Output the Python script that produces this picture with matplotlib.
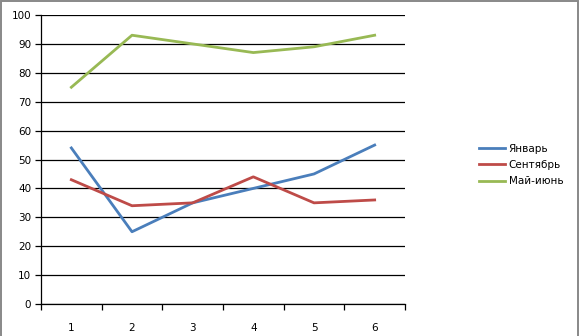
import numpy as np
import matplotlib.pyplot as plt
from matplotlib.patches import Rectangle

categories = ['1', '2', '3', '4', '5', '6']
jan = [54, 25, 35, 40, 45, 55]
sep = [43, 34, 35, 44, 35, 36]
may_jun = [75, 93, 90, 87, 89, 93]

fig = plt.figure(figsize=(5.8, 3.36), dpi=100)
ax = fig.add_axes([41/580, 32/336, 364/580, 289/336])

x = np.arange(len(categories))
ax.plot(x, jan, color='#4a7ebb', lw=2.0, label='Январь')
ax.plot(x, sep, color='#be4b48', lw=2.0, label='Сентябрь')
ax.plot(x, may_jun, color='#98b954', lw=2.0, label='Май-июнь')

ax.set_xlim(-0.5, len(categories) - 0.5)
ax.set_ylim(0, 100)
ax.set_yticks(np.arange(0, 101, 10))
ax.yaxis.grid(True, color='black', lw=0.9)
ax.set_axisbelow(True)

ax.set_xticks(x)
ax.set_xticklabels(categories)
ax.set_xticks(np.arange(-0.5, len(categories)), minor=True)
ax.tick_params(axis='x', which='major', length=0, pad=14, labelsize=7.5)
ax.tick_params(axis='x', which='minor', length=4, width=0.9, direction='out')
ax.tick_params(axis='y', length=4, width=0.9, direction='out', labelsize=7.5, pad=3)

for s in ['top', 'right']:
    ax.spines[s].set_visible(False)
ax.spines['left'].set_linewidth(0.9)
ax.spines['bottom'].set_linewidth(0.9)

ax.legend(loc='center left', bbox_to_anchor=(470/580, 171/336), bbox_transform=fig.transFigure,
          frameon=False, fontsize=7.5, handlelength=2.5, handletextpad=0.3, labelspacing=0.6)

# chart area border (open at the bottom, as in the reference crop)
fig.patches.append(Rectangle((1/580, -0.05), 577/580, 1.05 - 1/336, transform=fig.transFigure,
                             fill=False, edgecolor='#888888', lw=1.4))

fig.savefig('out.png', dpi=100)
